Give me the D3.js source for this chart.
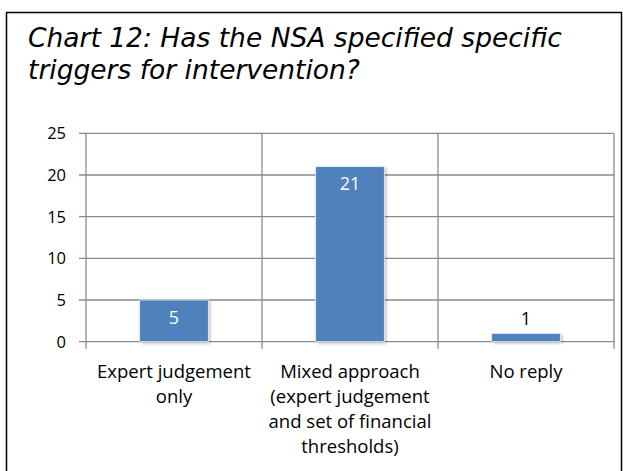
<!DOCTYPE html>
<html>
<head>
<meta charset="utf-8">
<script src="https://cdn.jsdelivr.net/npm/d3@7"></script>
<style>
  body { margin: 0; background: #fff; }
  svg text { font-family: "Open Sans", "Liberation Sans", Arial, sans-serif; }
</style>
</head>
<body>
<div id="chart"></div>
<script>
  // данные
  let categories = ["Expert judgement only",
                    "Mixed approach (expert judgement and set of financial thresholds)",
                    "No reply"];
  let catLines = [["Expert judgement", "only"],
                  ["Mixed approach", "(expert judgement", "and set of financial", "thresholds)"],
                  ["No reply"]];
  let values = [5, 21, 1];
  let yTicks = [0, 5, 10, 15, 20, 25];

  let width = 623, height = 471;
  let plotL = 86, plotR = 614, plotT = 133.3, plotB = 341.7;

  let svg = d3.select('#chart').append('svg')
              .attr('width', width).attr('height', height);

  let defs = svg.append('defs');
  let f = defs.append('filter').attr('id', 'shadow')
              .attr('x', '-20%').attr('y', '-20%').attr('width', '150%').attr('height', '150%');
  f.append('feDropShadow').attr('dx', 1.5).attr('dy', 1.5).attr('stdDeviation', 1.5)
   .attr('flood-color', '#000').attr('flood-opacity', 0.25);

  // рамка
  svg.append('path').attr('d', `M6.5,${height} V12.5 H${width - 1.5} V${height}`)
     .attr('fill', 'none').attr('stroke', '#000').attr('stroke-width', 1.5);

  // заголовок
  let title = svg.append('text')
     .style('font-family', '"DejaVu Sans", Verdana, sans-serif')
     .style('font-style', 'italic').style('font-size', '26.5px').attr('fill', '#000');
  title.append('tspan').attr('x', 28).attr('y', 47).text('Chart 12: Has the NSA specified specific');
  title.append('tspan').attr('x', 28).attr('y', 79).text('triggers for intervention?');

  let x = d3.scaleBand().domain(categories).range([plotL, plotR]).paddingInner(0).paddingOuter(0);
  let y = d3.scaleLinear().domain([0, 25]).range([plotB, plotT]);

  let g = svg.append('g');

  // горизонтальная сетка
  g.selectAll('line.h').data(yTicks).enter().append('line')
   .attr('x1', plotL - 7).attr('x2', plotR)
   .attr('y1', d => y(d)).attr('y2', d => y(d))
   .attr('stroke', '#8a8a8a').attr('stroke-width', 1.3);

  // вертикальная сетка
  let xs = categories.map(c => x(c)).concat([plotR]);
  g.selectAll('line.v').data(xs).enter().append('line')
   .attr('x1', d => d).attr('x2', d => d)
   .attr('y1', plotT).attr('y2', plotB + 7)
   .attr('stroke', '#8a8a8a').attr('stroke-width', 1.3);

  // подписи оси Y
  g.selectAll('text.yt').data(yTicks).enter().append('text')
   .attr('x', 66).attr('y', d => y(d)).attr('dy', '0.36em')
   .attr('text-anchor', 'end').style('font-size', '16.5px').attr('fill', '#000')
   .text(d => d);

  // столбцы
  let bw = x.bandwidth() * 0.39;
  g.selectAll('rect.bar').data(values).enter().append('rect')
   .attr('x', (d, i) => x(categories[i]) + x.bandwidth() / 2 - bw / 2)
   .attr('width', bw)
   .attr('y', d => y(d)).attr('height', d => plotB - y(d))
   .attr('fill', '#4f81bd').attr('stroke', '#e8eef6').attr('stroke-width', 0.8)
   .attr('filter', 'url(#shadow)');

  // подписи значений
  g.selectAll('text.val').data(values).enter().append('text')
   .attr('x', (d, i) => x(categories[i]) + x.bandwidth() / 2)
   .attr('y', d => d >= 3 ? y(d) + 17 : y(d) - 14.5)
   .attr('dy', '0.36em').attr('text-anchor', 'middle')
   .style('font-size', '18px')
   .attr('fill', d => d >= 3 ? '#fff' : '#000')
   .text(d => d);

  // подписи категорий
  catLines.forEach((lines, i) => {
    let cx = x(categories[i]) + x.bandwidth() / 2;
    let t = g.append('text').attr('text-anchor', 'middle')
             .style('font-size', '18.5px').attr('fill', '#000');
    lines.forEach((l, j) => {
      t.append('tspan').attr('x', cx).attr('y', 378 + j * 25).text(l);
    });
  });
</script>
</body>
</html>
